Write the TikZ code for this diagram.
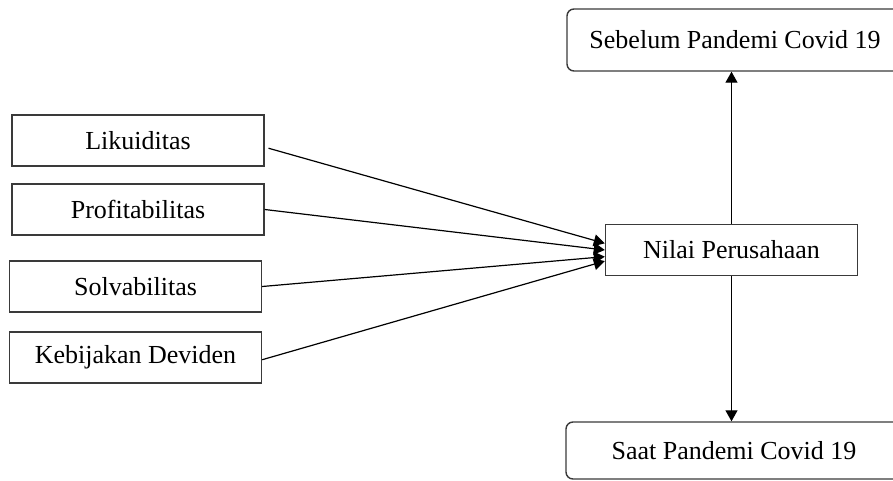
\documentclass[tikz,border=0pt]{standalone}
\usepackage{fontspec}
\setmainfont{Liberation Serif}
\usepackage{tikz}
\usetikzlibrary{positioning,arrows.meta}
\definecolor{BoxLine}{HTML}{3A3A3A}

\tikzset{
  varbox/.style={draw=BoxLine, line width=0.7pt, minimum width=126pt, minimum height=25.5pt, inner sep=0pt, font=\fontsize{13}{15}\selectfont},
  periodbox/.style={varbox, rounded corners=3.5pt, minimum width=168pt},
  link/.style={-{Triangle[length=5.5pt,width=6pt]}, line width=0.6pt}
}

\begin{document}
\begin{tikzpicture}[x=0.5pt, y=-0.5pt]
    \clip (0,0) rectangle (893,481);
    % independent variables
    \node[varbox] (lik)  at (138,140.5) {Likuiditas};
    \node[varbox] (prof) at (138,209.5) {Profitabilitas};
    \node[varbox] (solv) at (135.5,286.5) {Solvabilitas};
    \node[varbox] (keb)  at (135.5,357.5) {Kebijakan Deviden};
    % dependent variable and periods
    \node[varbox] (nilai) at (731.5,250) {Nilai Perusahaan};
    \node[periodbox, minimum height=31pt] (sebelum) at (735,40) {Sebelum Pandemi Covid 19};
    \node[periodbox, minimum height=28.5pt] (saat) at (734,450.5) {Saat Pandemi Covid 19};
    \draw[link, shorten <=2pt] (lik.-3) -- (nilai.177.7);
    \draw[link] (prof.east) -- (nilai.180.7);
    \draw[link] (solv.east) -- (nilai.183.6);
    \draw[link] (keb.-1.5) -- (nilai.185.6);
    \draw[link] (nilai.north) -- (nilai.north |- sebelum.south);
    \draw[link] (nilai.south) -- (nilai.south |- saat.north);
\end{tikzpicture}
\end{document}
